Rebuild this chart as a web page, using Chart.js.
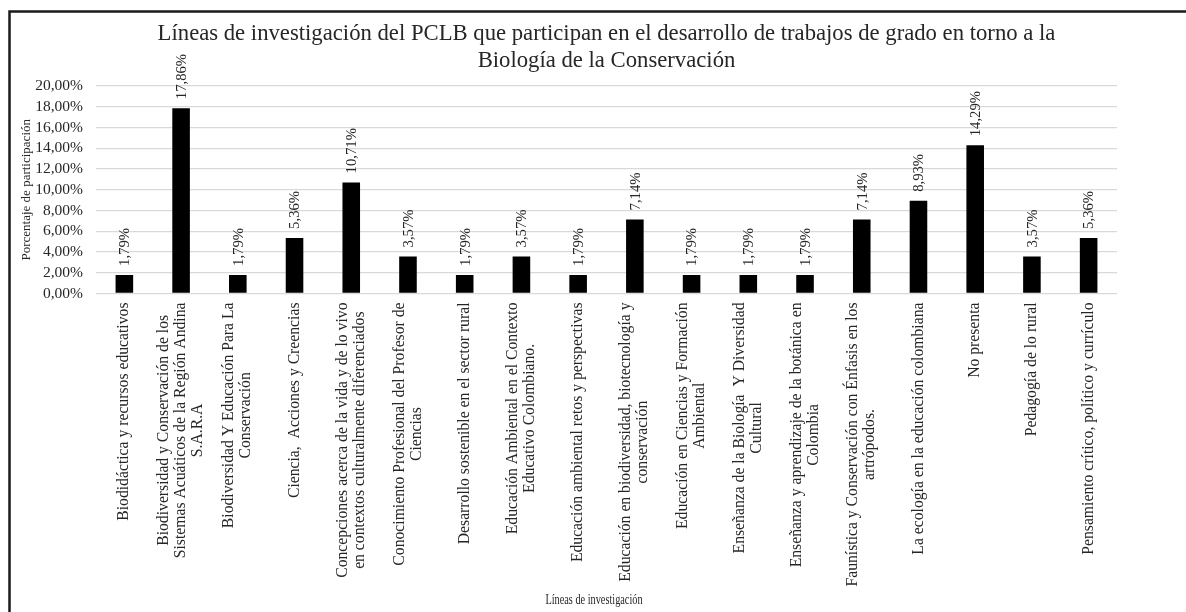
<!DOCTYPE html>
<html>
<head>
<meta charset="utf-8">
<script src="https://cdn.jsdelivr.net/npm/chart.js@4.4.0/dist/chart.umd.min.js"></script>
<style>
  html, body { margin: 0; padding: 0; background: #fff; }
  #wrap { width: 1186px; height: 612px; }
</style>
</head>
<body>
<div id="wrap"><canvas id="lineasChart" width="1186" height="612"></canvas></div>
<script>
// chart data
const titleLines = [
  'Líneas de investigación del PCLB que participan en el desarrollo de trabajos de grado en torno a la',
  'Biología de la Conservación'
];
const yTitle = 'Porcentaje de participación';
const xTitle = 'Líneas de investigación';

const categories = [
  ['Biodidáctica y recursos educativos'],
  ['Biodiversidad y Conservación de los', 'Sistemas Acuáticos de la Región Andina', 'S.A.R.A'],
  ['Biodiversidad Y Educación Para La', 'Conservación'],
  ['Ciencia,  Acciones y Creencias'],
  ['Concepciones acerca de la vida y de lo vivo', 'en contextos culturalmente diferenciados'],
  ['Conocimiento Profesional del Profesor de', 'Ciencias'],
  ['Desarrollo sostenible en el sector rural'],
  ['Educación Ambiental en el Contexto', 'Educativo Colombiano.'],
  ['Educación ambiental retos y perspectivas'],
  ['Educación en biodiversidad, biotecnología y', 'conservación'],
  ['Educación en Ciencias y Formación', 'Ambiental'],
  ['Enseñanza de la Biología  Y Diversidad', 'Cultural'],
  ['Enseñanza y aprendizaje de la botánica en', 'Colombia'],
  ['Faunística y Conservación con Énfasis en los', 'artrópodos.'],
  ['La ecología en la educación colombiana'],
  ['No presenta'],
  ['Pedagogía de lo rural'],
  ['Pensamiento crítico, político y currículo']
];

const values = [1.79, 17.86, 1.79, 5.36, 10.71, 3.57, 1.79, 3.57, 1.79, 7.14, 1.79, 1.79, 1.79, 7.14, 8.93, 14.29, 3.57, 5.36];

const yMin = 0;
const yMax = 20;
const yStep = 2;

const serif = '"Liberation Serif", "Times New Roman", serif';
const textColor = '#262626';

function pct(v) {
  return v.toFixed(2).replace('.', ',') + '%';
}

// frame, titles, rotated category labels and value labels
const decorPlugin = {
  id: 'decor',
  beforeDraw(chart) {
    const ctx = chart.ctx;
    ctx.save();
    ctx.fillStyle = '#fff';
    ctx.fillRect(0, 0, chart.width, chart.height);
    ctx.strokeStyle = '#1a1a1a';
    ctx.lineWidth = 2.5;
    ctx.strokeRect(9.5, 11.5, chart.width + 40, chart.height + 40);
    ctx.restore();
  },
  afterDatasetsDraw(chart) {
    const ctx = chart.ctx;
    const meta = chart.getDatasetMeta(0);
    ctx.save();
    ctx.fillStyle = textColor;
    ctx.font = '14.7px ' + serif;
    ctx.textAlign = 'left';
    ctx.textBaseline = 'middle';
    meta.data.forEach((bar, i) => {
      ctx.save();
      ctx.translate(bar.x + 1, bar.y - 9);
      ctx.rotate(-Math.PI / 2);
      ctx.fillText(pct(values[i]), 0, 0);
      ctx.restore();
    });
    ctx.restore();
  },
  afterDraw(chart) {
    const {ctx, chartArea} = chart;
    const xScale = chart.scales.x;
    const cx = (chartArea.left + chartArea.right) / 2;
    ctx.save();
    ctx.fillStyle = textColor;

    ctx.font = '22.7px ' + serif;
    ctx.textAlign = 'center';
    ctx.textBaseline = 'alphabetic';
    titleLines.forEach((t, i) => ctx.fillText(t, cx, 40 + i * 27));

    // y axis title
    ctx.save();
    ctx.font = '13px ' + serif;
    ctx.translate(30, (chartArea.top + chartArea.bottom) / 2);
    ctx.rotate(-Math.PI / 2);
    ctx.textAlign = 'center';
    ctx.fillText(yTitle, 0, 0);
    ctx.restore();

    // x axis title (narrow in the original)
    ctx.save();
    ctx.font = '14px ' + serif;
    ctx.translate(594, 604);
    ctx.scale(0.735, 1);
    ctx.textAlign = 'center';
    ctx.fillText(xTitle, 0, 0);
    ctx.restore();

    // category labels, rotated, lines centred inside the block
    ctx.font = '15.7px ' + serif;
    ctx.textAlign = 'center';
    ctx.textBaseline = 'middle';
    const lh = 17;
    categories.forEach((lines, i) => {
      const x = xScale.getPixelForValue(i);
      const w = Math.max(...lines.map(l => ctx.measureText(l).width));
      ctx.save();
      ctx.translate(x, chartArea.bottom + 9);
      ctx.rotate(-Math.PI / 2);
      lines.forEach((l, j) => {
        ctx.fillText(l, -w / 2, (j - (lines.length - 1) / 2) * lh);
      });
      ctx.restore();
    });
    ctx.restore();
  }
};

const ctx = document.getElementById('lineasChart').getContext('2d');
new Chart(ctx, {
  type: 'bar',
  data: {
    labels: categories,
    datasets: [{
      label: 'Porcentaje',
      data: values,
      backgroundColor: '#000',
      borderWidth: 0,
      categoryPercentage: 1,
      barPercentage: 0.31
    }]
  },
  options: {
    responsive: false,
    animation: false,
    layout: {
      padding: { left: 0, right: 69, top: 86, bottom: 0 }
    },
    plugins: {
      legend: { display: false },
      tooltip: { enabled: false },
      title: { display: false }
    },
    scales: {
      x: {
        afterFit(scale) { scale.height = 612 - 293.5; },
        grid: { display: false, drawTicks: false },
        border: { display: false },
        ticks: { display: false }
      },
      y: {
        min: yMin,
        max: yMax,
        afterFit(scale) { scale.width = 96; },
        grid: { color: '#d9d9d9', lineWidth: 1.3, drawTicks: false },
        border: { display: false },
        ticks: {
          stepSize: yStep,
          autoSkip: false,
          padding: 13,
          color: textColor,
          font: { family: serif, size: 15.5 },
          callback: v => pct(v)
        }
      }
    }
  },
  plugins: [decorPlugin]
});
</script>
</body>
</html>
